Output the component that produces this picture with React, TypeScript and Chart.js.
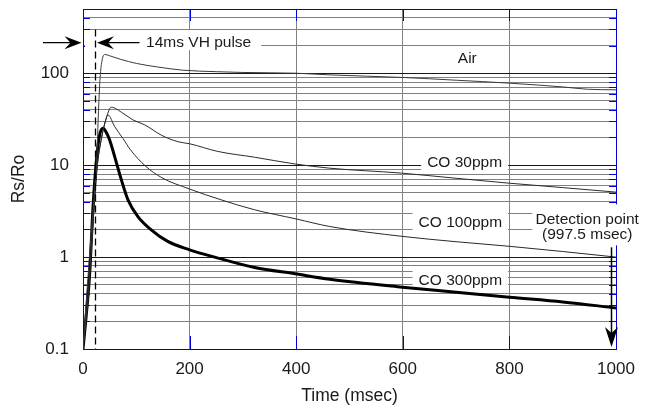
import React, { useEffect, useRef } from "react";
import { Chart, registerables } from "chart.js";

Chart.register(...registerables);

// ---- data (time in msec, Rs/Ro) ----
const AIR_T = [0, 12, 22, 26, 29, 32, 36, 41, 50, 70, 100, 140, 187, 250, 300, 400, 463, 600, 700, 800, 900, 946, 1000];
const AIR_V = [0.1, 1.0, 5.6, 12.5, 38, 88, 140, 160, 155, 142, 128, 117, 108, 104, 102, 100, 96, 90, 84, 78, 71, 67, 66];

const CO30_T = [0, 10, 20, 27, 35, 44, 53, 75, 94, 116, 147, 178, 200, 253, 322, 398, 463, 598, 700, 799, 900, 1000];
const CO30_V = [0.1, 0.4, 3, 10, 20, 33, 42.7, 36.7, 31, 27.4, 21.2, 18, 17.1, 14.1, 12.2, 10.3, 9.27, 8.19, 7.2, 6.37, 5.7, 5.09];

const CO100_T = [0, 10, 20, 26, 35, 42, 47, 59.4, 75, 89, 117, 148, 200, 259, 322, 400, 463, 599, 700, 800, 900, 1000];
const CO100_V = [0.1, 0.4, 3, 9, 20, 30, 35.2, 26.3, 19.5, 14.7, 9.8, 7.3, 5.5, 4.2, 3.27, 2.6, 2.15, 1.68, 1.47, 1.31, 1.15, 1.0];

const CO300_T = [0, 5, 12.6, 19, 25, 31, 37.6, 44, 50, 59.4, 72, 84.4, 103, 128, 159, 200, 247, 322, 398, 463, 599, 700, 800, 900, 1000];
const CO300_V = [0.1, 0.2, 0.67, 3.7, 11, 21, 25.2, 22.5, 18.8, 12.4, 6.92, 4.2, 2.76, 1.98, 1.48, 1.2, 1.0, 0.77, 0.658, 0.575, 0.471, 0.415, 0.366, 0.325, 0.28];

const X_TICKS = [0, 200, 400, 600, 800, 1000];
const Y_TICKS = [
  0.1, 0.2, 0.3, 0.4, 0.5, 0.6, 0.7, 0.8, 0.9,
  1, 2, 3, 4, 5, 6, 7, 8, 9,
  10, 20, 30, 40, 50, 60, 70, 80, 90,
  100, 200, 300, 400, 500,
];
const Y_LABELS = [0.1, 1, 10, 100];

const SERIES_NAMES = ["Air", "CO 30ppm", "CO 100ppm", "CO 300ppm"];
const PULSE_TEXT = "14ms VH pulse";
const DETECT_TEXT = ["Detection point", "(997.5 msec)"];
const PULSE_END_T = 22.5;
const PULSE_TOP_V = 300;
const DETECT_T = 991;

const BLUE = "#0000d0";
const GRAY = "#808080";
const INK = "#1a1a1a";
const FAMILY = "'Liberation Sans', Arial, Helvetica, sans-serif";

const pts = (t: number[], v: number[]) => t.map((tt, i) => ({ x: tt, y: v[i] }));

const isBlueY = (v: number) => Y_LABELS.includes(v) || v === 500;

function arrowHead(ctx: CanvasRenderingContext2D, tx: number, ty: number, dir: "r" | "l" | "d") {
  const L = 17, W = 6.5, N = 11;
  ctx.beginPath();
  if (dir === "r") {
    ctx.moveTo(tx, ty); ctx.lineTo(tx - L, ty - W); ctx.lineTo(tx - N, ty); ctx.lineTo(tx - L, ty + W);
  } else if (dir === "l") {
    ctx.moveTo(tx, ty); ctx.lineTo(tx + L, ty - W); ctx.lineTo(tx + N, ty); ctx.lineTo(tx + L, ty + W);
  } else {
    ctx.moveTo(tx, ty); ctx.lineTo(tx - W, ty - L - 3); ctx.lineTo(tx, ty - N - 3); ctx.lineTo(tx + W, ty - L - 3);
  }
  ctx.closePath();
  ctx.fill();
}

const annotPlugin = {
  id: "annot",
  beforeDatasetsDraw(chart: any) {
    const { ctx, chartArea: a, scales } = chart;
    const x = scales.x, y = scales.y;
    ctx.save();
    // blue decade lines and inner tick marks
    ctx.strokeStyle = BLUE;
    ctx.lineWidth = 1;
    ctx.beginPath();
    for (const v of Y_TICKS) {
      const py = Math.round(y.getPixelForValue(v)) + 0.5;
      if (isBlueY(v)) {
        ctx.moveTo(a.left, py); ctx.lineTo(a.right, py);
      } else {
        ctx.moveTo(a.left, py); ctx.lineTo(a.left + 7, py);
        ctx.moveTo(a.right - 7, py); ctx.lineTo(a.right, py);
      }
    }
    for (const t of X_TICKS) {
      const px = Math.round(x.getPixelForValue(t)) + 0.5;
      ctx.moveTo(px, a.top); ctx.lineTo(px, a.top + 12);
      ctx.moveTo(px, a.bottom - 13); ctx.lineTo(px, a.bottom);
    }
    ctx.stroke();

    ctx.font = `15.5px ${FAMILY}`;
    ctx.textAlign = "center";
    ctx.textBaseline = "middle";
    const box = (x0: number, y0: number, x1: number, y1: number) => {
      ctx.fillStyle = "#ffffff";
      ctx.fillRect(x0, y0, x1 - x0, y1 - y0);
    };
    // series labels
    const labelPos = [
      { t: 721, v: 147 },
      { t: 716, v: 10.9 },
      { t: 708, v: 2.38 },
      { t: 708, v: 0.566 },
    ];
    SERIES_NAMES.forEach((name, i) => {
      const cx = x.getPixelForValue(labelPos[i].t);
      const cy = y.getPixelForValue(labelPos[i].v);
      const w = ctx.measureText(name).width;
      if (i > 0) box(cx - w / 2 - 6, cy - 10.5, cx + w / 2 + 6, cy + 9);
      ctx.fillStyle = INK;
      ctx.fillText(name, cx, cy + 0.5);
    });
    // pulse label
    const pcx = x.getPixelForValue(217);
    const pcy = y.getPixelForValue(215);
    const pw = ctx.measureText(PULSE_TEXT).width;
    box(a.left + 2, pcy - 12.5, pcx + pw / 2 + 10, pcy + 7.5);
    ctx.fillStyle = INK;
    ctx.fillText(PULSE_TEXT, pcx, pcy + 0.5);
    // detection label
    const dcx = x.getPixelForValue(946);
    const dcy = y.getPixelForValue(2.16);
    box(dcx - 55, dcy - 22, dcx + 57, dcy + 19);
    ctx.fillStyle = INK;
    ctx.fillText(DETECT_TEXT[0], dcx, dcy - 7);
    ctx.fillText(DETECT_TEXT[1], dcx, dcy + 8);
    ctx.restore();
  },
  afterDatasetsDraw(chart: any) {
    const { ctx, chartArea: a, scales } = chart;
    const x = scales.x, y = scales.y;
    ctx.save();
    ctx.strokeStyle = "#000";
    ctx.fillStyle = "#000";
    // dashed pulse line
    const dx = Math.round(x.getPixelForValue(PULSE_END_T)) + 0.5;
    ctx.lineWidth = 1.3;
    ctx.setLineDash([7, 4]);
    ctx.beginPath();
    ctx.moveTo(dx, y.getPixelForValue(PULSE_TOP_V));
    ctx.lineTo(dx, a.bottom);
    ctx.stroke();
    ctx.setLineDash([]);
    // pulse arrows
    const ay = y.getPixelForValue(215);
    ctx.lineWidth = 1.2;
    ctx.beginPath();
    ctx.moveTo(a.left - 40, ay); ctx.lineTo(a.left - 8, ay);
    ctx.moveTo(dx + 8, ay); ctx.lineTo(dx + 44, ay);
    ctx.stroke();
    arrowHead(ctx, a.left - 1.5, ay, "r");
    arrowHead(ctx, dx + 1.5, ay, "l");
    // detection arrow
    const ex = Math.round(x.getPixelForValue(DETECT_T)) + 0.5;
    const dcy = y.getPixelForValue(2.16);
    ctx.lineWidth = 1.5;
    ctx.beginPath();
    ctx.moveTo(ex, dcy + 21);
    ctx.lineTo(ex, a.bottom - 8);
    ctx.stroke();
    arrowHead(ctx, ex, a.bottom - 2, "d");
    ctx.restore();
  },
};

export default function App() {
  const ref = useRef<HTMLCanvasElement | null>(null);
  useEffect(() => {
    if (!ref.current) return;
    const lineDs = (label: string, t: number[], v: number[], width: number, color: string) => ({
      label,
      data: pts(t, v),
      borderColor: color,
      borderWidth: width,
      pointRadius: 0,
      fill: false,
      cubicInterpolationMode: "monotone" as const,
    });
    const chart = new Chart(ref.current, {
      type: "line",
      data: {
        datasets: [
          lineDs(SERIES_NAMES[0], AIR_T, AIR_V, 1, "#3a3a3a"),
          lineDs(SERIES_NAMES[1], CO30_T, CO30_V, 1, "#2a2a2a"),
          lineDs(SERIES_NAMES[2], CO100_T, CO100_V, 1, "#2a2a2a"),
          lineDs(SERIES_NAMES[3], CO300_T, CO300_V, 3, "#000000"),
        ],
      },
      options: {
        animation: false,
        responsive: false,
        events: [],
        layout: { padding: { left: 0, right: 33, top: 9, bottom: 0 } },
        plugins: { legend: { display: false }, tooltip: { enabled: false }, title: { display: false } },
        scales: {
          x: {
            type: "linear",
            min: 0,
            max: 1000,
            afterBuildTicks: (s: any) => { s.ticks = X_TICKS.map((v) => ({ value: v })); },
            afterFit: (s: any) => { s.height = 58; s.paddingLeft = 0; s.paddingRight = 0; },
            ticks: {
              autoSkip: false,
              maxRotation: 0,
              padding: 10,
              color: INK,
              font: { family: FAMILY, size: 17 },
              callback: (v: any) => String(v),
            },
            grid: {
              drawTicks: false,
              lineWidth: 1,
              color: (c: any) => (c.tick && (c.tick.value === 0 || c.tick.value === 1000) ? BLUE : GRAY),
            },
            border: { display: true, color: BLUE, width: 1 },
            title: {
              display: true,
              text: "Time (msec)",
              color: INK,
              font: { family: FAMILY, size: 17.5 },
              padding: { top: 0, bottom: 0 },
            },
          },
          y: {
            type: "logarithmic",
            min: 0.1,
            max: 500,
            afterBuildTicks: (s: any) => { s.ticks = Y_TICKS.map((v) => ({ value: v, major: Y_LABELS.includes(v) })); },
            afterFit: (s: any) => { s.width = 83; s.paddingTop = 0; s.paddingBottom = 0; },
            ticks: {
              autoSkip: false,
              padding: 14,
              color: INK,
              font: { family: FAMILY, size: 17 },
              callback: (v: any) => (Y_LABELS.includes(Number(v)) ? String(v) : ""),
            },
            grid: {
              drawTicks: false,
              lineWidth: 1,
              color: (c: any) => (c.tick && isBlueY(c.tick.value) ? BLUE : GRAY),
            },
            border: { display: true, color: BLUE, width: 1 },
            title: {
              display: true,
              text: "Rs/Ro",
              color: INK,
              font: { family: FAMILY, size: 17.5 },
              padding: { top: 8.5, bottom: 0 },
            },
          },
        },
      },
      plugins: [annotPlugin],
    } as any);
    return () => chart.destroy();
  }, []);
  return (
    <div style={{ position: "absolute", left: 0, top: 0, width: 649, height: 407, background: "#fff" }}>
      <canvas ref={ref} width={649} height={407} style={{ display: "block", width: 649, height: 407 }} />
    </div>
  );
}
